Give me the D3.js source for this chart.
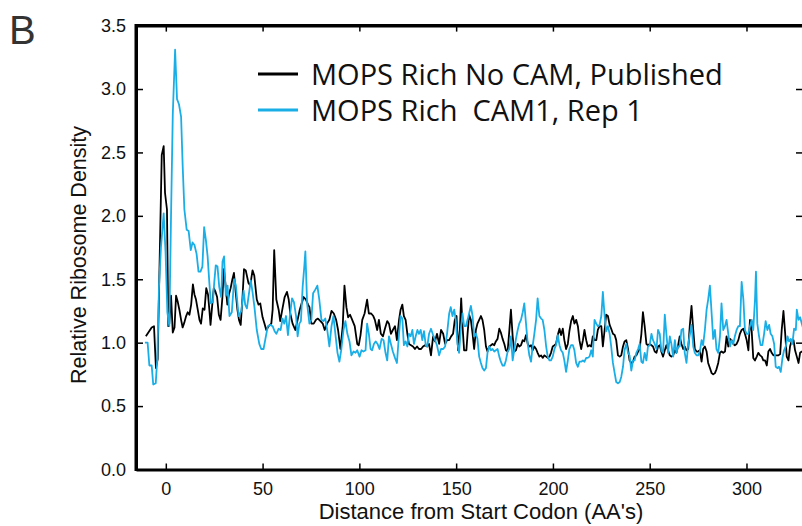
<!DOCTYPE html>
<html><head><meta charset="utf-8">
<script src="https://cdn.jsdelivr.net/npm/d3@7"></script>
<style>html,body{margin:0;padding:0;background:#fff;overflow:hidden}</style>
</head><body>
<svg id="chart" width="802" height="526"></svg>
<script>
const seriesNames = ["MOPS Rich No CAM, Published", "MOPS Rich  CAM1, Rep 1"];
const seriesColors = ["#000000", "#1aaee6"];
const yTicks = [0, 0.5, 1.0, 1.5, 2.0, 2.5, 3.0, 3.5];
const xTicks = [0, 50, 100, 150, 200, 250, 300];

const blackPos = [-10.3,-7.3,-6.1,-5.1,-4.2,-2.1,-1.1,-0.4,0.6,1.3,1.8,2.7,3.6,4.5,5.3,6.2,7.0,7.9,8.7,9.6,10.5,11.3,12.2,13.1,14.0,14.8,15.6,16.5,17.4,18.2,19.1,20.0,20.9,21.8,22.5,23.1,24.0,24.8,25.7,26.5,27.4,28.3,29.2,30.0,30.9,31.8,32.6,33.5,34.4,35.2,36.1,37.0,37.8,38.7,39.6,40.4,
41.3,42.7,43.6,44.8,45.7,47.0,47.9,48.8,50.0,51.0,51.9,53.1,54.5,55.2,56.0,57.1,58.3,59.1,60.3,61.4,62.6,63.5,64.3,65.5,66.9,68.1,69.2,70.0,71.2,72.4,73.5,74.2,75.2,76.4,77.6,78.6,79.9,81.1,82.1,83.3,84.5,85.6,86.8,88.0,89.0,90.2,91.4,92.3,93.3,94.2,95.2,96.3,97.6,
98.9,99.7,100.6,101.5,102.7,104.0,104.9,106.1,107.2,108.0,109.2,110.1,111.1,112.2,113.2,114.4,115.3,116.3,117.3,118.4,119.4,120.5,121.3,122.2,123.0,123.9,124.8,125.6,126.7,127.7,128.7,129.8,130.8,131.9,132.9,133.9,135.0,136.0,137.0,138.1,139.1,140.1,141.2,142.2,143.3,144.3,145.3,146.4,147.4,148.4,149.3,150.2,151.0,151.9,152.6,153.3,154.1,155.3,
155.9,156.7,157.6,158.5,159.3,160.2,161.0,161.9,162.8,163.6,164.5,165.4,166.2,167.1,168.0,168.8,169.7,170.5,171.4,172.3,173.1,174.0,174.9,175.7,176.6,177.5,178.3,179.2,180.0,180.9,181.8,182.6,183.5,184.4,185.2,186.1,187.0,187.8,188.7,189.5,190.4,191.3,192.1,193.0,193.9,194.7,195.6,196.5,197.3,198.2,199.0,199.9,200.8,201.6,202.5,203.4,204.2,205.1,205.9,206.8,207.7,208.5,209.4,210.3,211.1,212.0,212.9,213.7,214.6,
215.5,216.3,217.2,218.0,218.9,219.8,220.6,221.5,222.4,223.2,224.1,225.0,225.8,226.7,227.5,228.4,229.3,230.1,231.0,231.9,232.7,233.6,234.5,235.3,236.2,237.0,237.9,238.8,239.6,240.5,241.4,242.2,243.1,244.0,244.8,245.7,246.5,247.4,248.3,249.1,250.0,250.9,251.7,252.6,253.5,254.3,255.2,256.0,256.9,257.8,258.6,259.5,260.4,261.2,262.1,263.0,263.8,264.7,265.5,266.4,267.3,268.1,269.0,269.9,270.7,271.6,
272.5,273.3,274.2,275.0,275.9,276.8,277.6,278.5,279.4,280.2,281.1,282.0,282.8,283.7,284.5,285.4,286.3,287.1,288.0,288.9,289.7,290.6,291.5,292.3,293.2,294.0,294.9,295.8,296.6,297.5,298.4,299.2,300.1,301.0,301.8,302.7,303.5,304.4,305.3,306.1,307.0,307.9,308.7,309.6,310.5,311.3,312.2,313.0,313.9,314.8,315.6,316.5,317.4,318.2,319.1,320.0,320.8,321.7,322.5,323.4,324.3,325.1,326.0,326.9,327.7,328.6,329.5];
const blackVal = [1.05,1.12,1.13,0.80,0.87,2.48,2.55,2.18,2.05,1.13,1.15,1.37,1.08,1.12,1.37,1.32,1.26,1.18,1.12,1.16,1.21,1.24,1.22,1.30,1.46,1.38,1.34,1.26,1.18,1.15,1.27,1.26,1.43,1.38,1.26,1.14,1.30,1.43,1.40,1.36,1.22,1.18,1.35,1.58,1.45,1.30,1.38,1.43,1.50,1.55,1.40,1.26,1.18,1.14,1.35,1.58,
1.57,1.47,1.45,1.57,1.53,1.34,1.30,1.31,1.20,1.15,1.10,1.13,1.15,1.26,1.73,1.34,1.26,1.17,1.27,1.36,1.40,1.34,1.23,1.15,1.10,1.18,1.26,1.30,1.36,1.34,1.30,1.28,1.15,1.15,1.18,1.19,1.17,1.15,1.10,1.15,1.18,1.25,1.23,1.18,1.10,0.95,1.13,1.45,1.28,1.20,1.22,1.18,1.13,
0.99,0.98,1.06,1.18,1.23,1.34,1.23,1.23,1.21,1.18,1.10,1.18,1.07,1.05,1.11,1.17,1.15,1.07,1.10,1.13,1.02,1.18,1.26,1.30,1.21,1.18,1.07,0.99,0.98,0.97,0.95,0.97,0.95,0.95,0.97,0.98,0.97,0.99,0.90,1.05,1.01,1.07,0.99,1.10,1.07,0.99,1.02,1.02,1.05,1.07,1.18,1.21,0.94,1.10,1.35,1.13,0.94,0.94,
1.07,1.22,1.18,1.07,0.95,1.10,1.15,1.18,1.21,1.18,1.10,0.97,0.93,0.97,0.98,0.99,0.98,1.01,1.03,1.11,1.08,1.03,0.99,0.94,0.93,1.10,1.26,1.05,0.93,0.94,0.99,0.97,0.98,1.02,1.01,1.06,0.99,0.97,0.98,0.94,0.97,0.95,0.92,0.89,0.90,0.88,0.90,0.89,0.88,0.89,0.92,0.97,0.98,0.99,1.06,1.11,1.06,1.11,1.02,0.95,0.99,1.09,1.17,1.21,1.15,1.18,1.13,1.02,0.95,
1.02,1.10,1.02,0.97,0.98,0.97,1.05,1.02,1.02,1.10,1.13,1.13,0.97,1.10,1.22,1.21,1.14,1.11,1.07,1.06,1.02,0.90,0.89,0.90,0.97,1.01,1.02,0.95,0.86,0.84,0.85,0.89,0.90,0.93,0.95,1.07,1.24,1.13,0.99,0.98,0.99,0.98,0.97,0.93,0.92,0.97,0.98,0.93,0.89,0.94,0.98,0.94,0.90,0.89,0.90,0.94,0.92,0.98,1.05,0.99,0.95,0.97,0.94,0.95,1.13,1.29,
1.10,0.95,0.93,0.93,0.94,0.85,0.95,0.97,0.93,0.84,0.80,0.76,0.75,0.76,0.79,0.84,0.92,0.93,0.92,0.93,1.05,0.97,1.03,1.02,0.99,0.98,0.99,1.02,1.07,1.10,1.11,1.07,1.02,0.94,1.18,1.09,0.88,0.86,0.89,0.92,0.90,0.89,0.86,0.86,0.82,0.93,0.95,0.92,0.90,0.90,0.90,0.90,0.91,1.10,1.25,1.07,0.89,0.86,0.97,1.02,1.02,0.94,0.89,0.84,0.92,0.93,0.93];

const bluePos = [-10.8,-9.4,-8.5,-7.3,-6.5,-5.2,-4.4,-3.5,-2.5,-1.1,-0.1,0.8,1.8,2.7,3.6,4.8,5.8,6.8,7.9,8.7,9.6,10.8,11.8,12.9,13.8,14.8,15.9,16.9,17.9,18.9,19.8,20.7,21.6,22.5,23.3,24.3,25.0,25.8,26.7,27.6,28.6,29.3,30.1,31.0,31.9,32.9,34.1,35.3,36.2,37.6,39.0,40.2,
41.0,41.9,42.7,43.9,44.8,45.8,47.0,48.3,49.3,50.5,51.7,52.7,53.9,55.2,56.2,57.1,58.3,59.3,60.3,61.2,62.1,63.1,64.1,65.2,66.2,67.3,68.1,69.0,69.8,70.7,71.6,72.1,73.0,74.2,75.2,76.1,77.3,78.3,79.3,80.4,81.4,82.4,83.5,84.5,85.6,86.6,87.6,88.7,89.7,90.7,91.8,92.8,93.8,94.9,95.9,97.0,
98.0,98.9,100.1,101.1,102.1,103.2,104.0,104.9,105.8,106.6,107.5,108.4,109.4,110.4,111.5,112.5,113.5,114.4,115.3,116.3,117.3,118.4,119.4,120.5,121.3,122.2,123.0,123.9,124.8,125.6,126.5,127.4,128.2,129.1,130.0,130.8,131.7,132.5,133.4,134.3,135.1,136.0,137.0,138.1,139.1,140.1,141.2,142.2,143.3,144.3,145.3,146.4,147.2,148.1,149.0,149.8,150.7,151.5,152.4,153.3,154.1,
155.0,155.9,156.7,157.6,158.5,159.3,160.2,161.0,161.9,162.8,163.6,164.5,165.4,166.2,167.1,168.0,168.8,169.7,170.5,171.4,172.3,173.1,174.0,174.9,175.7,176.6,177.5,178.3,179.2,180.0,180.9,181.8,182.6,183.5,184.4,185.2,186.1,187.0,187.8,188.7,189.5,190.4,191.3,192.1,193.0,193.9,194.7,195.6,196.5,197.3,198.2,199.0,199.9,200.8,201.6,202.5,203.4,204.2,205.1,205.9,206.8,207.7,208.5,209.4,210.3,211.1,
212.0,212.9,213.7,214.6,215.5,216.3,217.2,218.0,218.9,219.8,220.6,221.5,222.4,223.2,224.1,225.0,225.8,226.7,227.5,228.4,229.3,230.1,231.0,231.9,232.7,233.6,234.5,235.3,236.2,237.0,237.9,238.8,239.6,240.5,241.4,242.2,243.1,244.0,244.8,245.7,246.5,247.4,248.3,249.1,250.0,250.9,251.7,252.6,253.5,254.3,255.2,256.0,256.9,257.8,258.6,259.5,260.4,261.2,262.1,263.0,263.8,264.7,265.5,266.4,267.3,268.1,269.0,269.9,270.7,271.6,
272.5,273.3,274.2,275.0,275.9,276.8,277.6,278.5,279.4,280.2,281.1,282.0,282.8,283.7,284.5,285.4,286.3,287.1,288.0,288.9,289.7,290.6,291.5,292.3,293.2,294.0,294.9,295.8,296.6,297.5,298.4,299.2,300.1,301.0,301.8,302.7,303.5,304.4,304.9,305.6,306.5,307.3,308.2,309.1,309.9,310.8,311.7,312.5,313.4,314.3,315.1,316.0,316.8,317.7,318.6,319.4,320.3,321.2,322.0,322.9,323.7,324.6,325.5,326.0,326.9,327.7,328.6,329.5];
const blueVal = [1.00,1.00,0.82,0.82,0.67,0.68,0.88,1.45,1.75,2.02,1.70,1.24,1.13,2.00,2.80,3.31,2.92,2.88,2.78,2.40,2.05,1.89,1.88,1.73,1.79,1.77,1.70,1.56,1.56,1.60,1.91,1.81,1.68,1.47,1.31,1.32,1.47,1.61,1.60,1.44,1.36,1.64,1.68,1.37,1.45,1.21,1.24,1.50,1.45,1.21,1.25,1.41,
1.30,1.27,1.36,1.49,1.40,1.28,1.10,0.99,0.95,0.95,1.05,1.13,1.14,1.13,1.09,1.07,1.11,1.10,1.19,1.15,1.21,1.06,1.21,1.35,1.32,1.21,1.05,1.15,1.17,1.44,1.61,1.72,1.31,1.15,1.18,1.39,1.42,1.45,1.34,1.18,1.17,1.19,1.09,0.97,1.13,1.21,1.07,0.92,0.85,0.95,1.10,1.17,1.07,1.01,0.90,0.93,
0.92,0.94,0.89,0.94,0.93,0.94,1.15,1.07,0.95,0.94,0.99,1.01,0.99,0.95,1.03,1.02,0.92,0.86,1.05,0.99,0.93,0.88,0.84,1.07,1.21,1.19,0.98,1.01,0.97,1.07,1.05,1.10,0.99,1.05,1.10,1.07,1.10,1.02,1.09,0.98,0.97,1.07,1.11,1.06,1.02,0.98,0.90,0.95,0.95,0.97,1.07,1.23,1.28,1.21,1.26,1.18,0.99,0.92,1.10,1.23,1.13,
1.13,1.18,1.23,1.29,1.21,1.05,1.07,1.03,0.89,0.84,0.80,0.78,0.80,0.92,0.97,0.94,0.95,0.93,0.94,0.95,0.89,0.85,0.82,0.82,0.86,0.93,0.95,1.05,0.86,0.94,1.03,1.10,1.15,1.18,1.24,1.31,1.15,0.99,0.90,0.85,0.97,1.07,1.18,1.35,1.21,1.19,1.18,1.10,0.97,0.89,0.86,0.86,0.89,0.95,0.98,1.06,0.98,0.94,0.92,0.86,0.77,0.86,0.95,0.98,0.98,0.94,
0.84,0.81,0.85,0.85,0.86,0.85,0.88,0.88,0.89,0.94,0.89,1.18,1.15,1.13,1.14,1.21,1.40,1.21,1.09,1.13,1.07,0.97,0.84,0.76,0.69,0.68,0.69,0.73,0.81,0.94,0.99,0.92,0.90,0.78,0.86,0.86,0.92,0.95,0.99,0.85,0.84,0.92,0.86,0.97,0.98,1.07,1.02,0.99,0.95,1.10,1.07,0.94,0.92,1.22,1.07,0.92,1.05,0.99,0.89,1.02,0.92,0.97,0.97,1.10,1.11,0.92,0.84,0.99,1.06,1.14,
0.97,0.92,0.90,0.90,0.93,1.02,0.98,1.10,1.26,1.34,1.45,1.23,1.03,1.10,0.95,0.92,1.05,1.31,1.10,1.13,1.18,1.07,0.97,1.02,0.99,1.05,1.10,1.13,1.13,1.48,1.34,1.10,1.07,1.07,1.13,1.18,1.10,1.34,1.56,1.15,1.05,0.98,0.98,1.07,1.17,1.10,1.14,1.07,1.05,0.99,0.81,0.80,0.81,0.77,0.88,0.94,0.97,1.05,1.01,1.03,0.99,1.11,1.10,1.26,1.18,1.20,1.15,1.10];

if (blackPos.length !== blackVal.length || bluePos.length !== blueVal.length) {
  throw new Error("length mismatch black " + blackPos.length + "/" + blackVal.length + " blue " + bluePos.length + "/" + blueVal.length);
}

const svg = d3.select("#chart");
const pLeft = 136, pRight = 803, pTop = 25.6, pBottom = 469.5;
const x = d3.scaleLinear().domain([-15.4, 329.2]).range([pLeft, pRight]);
const y = d3.scaleLinear().domain([0, 3.5]).range([pBottom, pTop]);

svg.append("defs").append("clipPath").attr("id", "clip")
  .append("rect").attr("x", pLeft).attr("y", pTop - 5).attr("width", pRight - pLeft).attr("height", pBottom - pTop + 5);

const line = d3.line().x(d => x(d[0])).y(d => y(d[1]));
const series = [d3.zip(blackPos, blackVal), d3.zip(bluePos, blueVal)];
const g = svg.append("g").attr("clip-path", "url(#clip)");
[0, 1].forEach(i => {
  g.append("path").datum(series[i]).attr("fill", "none")
    .attr("stroke", seriesColors[i]).attr("stroke-width", 1.8)
    .attr("stroke-linejoin", "round").attr("d", line);
});

const axFont = "'Liberation Sans', Arial, sans-serif";
const yAxis = svg.append("g").attr("transform", `translate(${pLeft},0)`)
  .call(d3.axisLeft(y).tickValues(yTicks).tickFormat(d3.format(".1f")).tickSizeInner(-7).tickSizeOuter(0).tickPadding(10));
const xAxis = svg.append("g").attr("transform", `translate(0,${pBottom})`)
  .call(d3.axisBottom(x).tickValues(xTicks).tickFormat(d3.format("d")).tickSizeInner(-6).tickSizeOuter(0).tickPadding(13));
const yAxisR = svg.append("g").attr("transform", `translate(${pRight},0)`)
  .call(d3.axisRight(y).tickValues(yTicks).tickFormat("").tickSizeInner(-7).tickSizeOuter(0));
const xAxisT = svg.append("g").attr("transform", `translate(0,${pTop})`)
  .call(d3.axisTop(x).tickValues(xTicks).tickFormat("").tickSizeInner(-6).tickSizeOuter(0));
[yAxis, xAxis, yAxisR, xAxisT].forEach(a => {
  a.select(".domain").attr("stroke", "#000").attr("stroke-width", 3);
  a.selectAll(".tick line").attr("stroke", "#000").attr("stroke-width", 1.5);
  a.selectAll("text").attr("fill", "#111").style("font-family", axFont).style("font-size", "18px");
});
svg.append("path").attr("d", `M${pLeft},${pTop}H${pRight}`).attr("stroke", "#000").attr("stroke-width", 3);
svg.append("path").attr("d", `M${pLeft},${pTop-1.5}V${pBottom+1.5}`).attr("stroke", "#000").attr("stroke-width", 3);

svg.append("text").attr("x", 481).attr("y", 519).attr("text-anchor", "middle")
  .style("font-family", axFont).style("font-size", "22px").attr("fill", "#111")
  .text("Distance from Start Codon (AA's)");
svg.append("text").attr("transform", "translate(86,255) rotate(-90)").attr("text-anchor", "middle")
  .style("font-family", axFont).style("font-size", "21.5px").attr("fill", "#111")
  .text("Relative Ribosome Density");

svg.append("text").attr("x", 9).attr("y", 44).style("font-family", axFont)
  .style("font-size", "40px").attr("fill", "#333").text("B");

const legY = [74, 110];
seriesNames.forEach((name, i) => {
  svg.append("line").attr("x1", 258).attr("x2", 298).attr("y1", legY[i]).attr("y2", legY[i])
    .attr("stroke", seriesColors[i]).attr("stroke-width", 3);
  svg.append("text").attr("x", 311).attr("y", legY[i] + 11)
    .style("font-family", "'Open Sans', sans-serif").style("font-size", "29px")
    .style("white-space", "pre").attr("fill", "#111").text(name);
});
</script>
</body></html>
